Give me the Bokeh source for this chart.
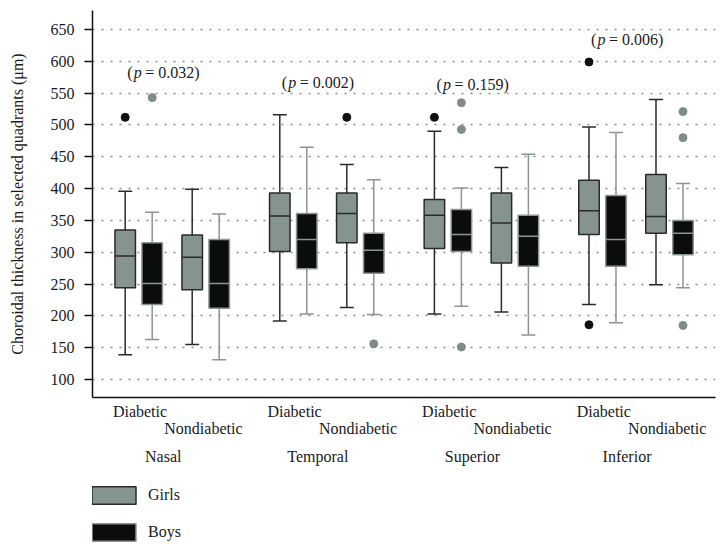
from bokeh.plotting import figure
from bokeh.layouts import column
from bokeh.models import Range1d, FixedTicker, LinearAxis, Legend, LegendItem, ColumnDataSource
from bokeh.core.properties import value, field
from bokeh.embed import file_html
from bokeh.resources import INLINE

# ---------------- data ----------------
quadrants = ["Nasal", "Temporal", "Superior", "Inferior"]
status = ["Diabetic", "Nondiabetic"]
groups = ["Girls", "Boys"]
p_values = ["0.032", "0.002", "0.159", "0.006"]
y_ticks = [100, 150, 200, 250, 300, 350, 400, 450, 500, 550, 600, 650]

# box order: Nasal D, Nasal ND, Temporal D, Temporal ND, Superior D, Superior ND, Inferior D, Inferior ND
girls_low = [139, 155, 192, 213, 203, 206, 218, 249]
girls_q1 = [244, 241, 301, 315, 306, 283, 328, 330]
girls_med = [294, 292, 357, 361, 358, 346, 365, 356]
girls_q3 = [335, 327, 393, 393, 383, 393, 413, 422]
girls_high = [396, 399, 516, 438, 490, 433, 497, 540]

boys_low = [163, 131, 203, 202, 215, 170, 189, 244]
boys_q1 = [218, 212, 274, 267, 301, 278, 278, 296]
boys_med = [251, 251, 320, 303, 328, 325, 320, 330]
boys_q3 = [315, 320, 361, 330, 367, 358, 389, 350]
boys_high = [363, 360, 465, 414, 401, 454, 488, 408]

girls_out_box = [0, 3, 4, 6, 6]
girls_out_val = [512, 512, 512, 599, 186]
boys_out_box = [0, 3, 4, 4, 4, 7, 7, 7]
boys_out_val = [543, 156, 535, 493, 151, 521, 480, 185]

# ---------------- layout ----------------
GIRLS_OFF = [0.0, 0.4334]
BOYS_OFF = [0.1746, 0.6080]
BOX_W = 0.1326
CAP_W = 0.09
STATUS_LABEL_OFF = [0.0957, 0.506]
GROUP_LABEL_OFF = 0.246
p_label_y = [583, 566, 564, 634]

FONT = "Liberation Serif"
TEXT_COLOR = "#1a1a1a"
GIRLS_FILL = "#869491"
GIRLS_LINE = "#2a2a2a"
BOYS_FILL = "#0b0d0d"
BOYS_LINE = "#8a9694"
GIRLS_DOT = "#111111"
BOYS_DOT = "#7f8b89"

xg = [q + o for q in range(len(quadrants)) for o in GIRLS_OFF]
xb = [q + o for q in range(len(quadrants)) for o in BOYS_OFF]

girls_src = ColumnDataSource(dict(x=xg, q1=girls_q1, q3=girls_q3))
boys_src = ColumnDataSource(dict(x=xb, q1=boys_q1, q3=boys_q3))

p = figure(width=722, height=470,
           x_range=Range1d(-0.2115, 3.8183), y_range=Range1d(71.7, 679.9),
           output_backend="svg", toolbar_location=None,
           min_border_left=92, min_border_right=7, min_border_top=10, min_border_bottom=73)
p.outline_line_color = None
p.background_fill_color = "white"
p.xgrid.visible = False
p.ygrid.ticker = FixedTicker(ticks=y_ticks)
p.ygrid.grid_line_color = "#8a8a8a"
p.ygrid.grid_line_dash = "2 7"
p.ygrid.grid_line_width = 1.3

# y axis
yax = p.yaxis[0]
yax.ticker = FixedTicker(ticks=y_ticks)
yax.axis_line_color = "#111111"
yax.axis_line_width = 1.5
yax.major_tick_line_color = "#111111"
yax.major_tick_line_width = 1.5
yax.major_tick_out = 8
yax.major_tick_in = 0
yax.minor_tick_line_color = None
yax.major_label_standoff = 10
yax.major_label_text_font = FONT
yax.major_label_text_font_size = "16px"
yax.major_label_text_color = TEXT_COLOR
yax.axis_label = "Choroidal thickness in selected quadrants (μm)"
yax.axis_label_text_font = FONT
yax.axis_label_text_font_size = "16px"
yax.axis_label_text_font_style = "normal"
yax.axis_label_text_color = TEXT_COLOR
yax.axis_label_standoff = 22


def style_xaxis(ax, ticks, labels, standoff, line=False):
    ax.ticker = FixedTicker(ticks=ticks)
    ax.major_label_overrides = {t: l for t, l in zip(ticks, labels)}
    ax.major_tick_line_color = None
    ax.minor_tick_line_color = None
    ax.major_tick_out = 0
    ax.major_tick_in = 0
    ax.major_label_standoff = standoff
    ax.major_label_text_font = FONT
    ax.major_label_text_font_size = "16px"
    ax.major_label_text_color = TEXT_COLOR
    if line:
        ax.axis_line_color = "#111111"
        ax.axis_line_width = 1.5
    else:
        ax.axis_line_color = None


d_ticks = [round(q + STATUS_LABEL_OFF[0], 4) for q in range(len(quadrants))]
nd_ticks = [round(q + STATUS_LABEL_OFF[1], 4) for q in range(len(quadrants))]
g_ticks = [round(q + GROUP_LABEL_OFF, 4) for q in range(len(quadrants))]

style_xaxis(p.xaxis[0], d_ticks, [status[0]] * 4, 5, line=True)
ax2 = LinearAxis()
style_xaxis(ax2, nd_ticks, [status[1]] * 4, -3)
p.add_layout(ax2, "below")
ax3 = LinearAxis()
style_xaxis(ax3, g_ticks, quadrants, 8)
p.add_layout(ax3, "below")

# whiskers
for xs, lo, q1, q3, hi, col in [(xg, girls_low, girls_q1, girls_q3, girls_high, GIRLS_LINE),
                                (xb, boys_low, boys_q1, boys_q3, boys_high, BOYS_LINE)]:
    p.segment(x0=xs, y0=q3, x1=xs, y1=hi, line_color=col, line_width=1.5)
    p.segment(x0=xs, y0=q1, x1=xs, y1=lo, line_color=col, line_width=1.5)
    p.segment(x0=[x - CAP_W / 2 for x in xs], y0=hi, x1=[x + CAP_W / 2 for x in xs], y1=hi,
              line_color=col, line_width=1.5)
    p.segment(x0=[x - CAP_W / 2 for x in xs], y0=lo, x1=[x + CAP_W / 2 for x in xs], y1=lo,
              line_color=col, line_width=1.5)

p.vbar(x="x", width=BOX_W, top="q3", bottom="q1", source=girls_src,
       fill_color=GIRLS_FILL, line_color=GIRLS_LINE, line_width=1.5)
p.vbar(x="x", width=BOX_W, top="q3", bottom="q1", source=boys_src,
       fill_color=BOYS_FILL, line_color=BOYS_LINE, line_width=1.5)

p.segment(x0=[x - BOX_W / 2 for x in xg], y0=girls_med, x1=[x + BOX_W / 2 for x in xg], y1=girls_med,
          line_color=GIRLS_LINE, line_width=1.5)
p.segment(x0=[x - BOX_W / 2 for x in xb], y0=boys_med, x1=[x + BOX_W / 2 for x in xb], y1=boys_med,
          line_color=BOYS_LINE, line_width=1.5)

p.scatter(x=[xg[i] for i in girls_out_box], y=girls_out_val, size=8,
          fill_color=GIRLS_DOT, line_color=GIRLS_DOT)
p.scatter(x=[xb[i] for i in boys_out_box], y=boys_out_val, size=8,
          fill_color=BOYS_DOT, line_color=BOYS_DOT)

# p-value labels: "(" + italic "p" + "= value)"
tx, ty, tt, ts, td = [], [], [], [], []
for q, pv in enumerate(p_values):
    for text, style, dx in [("(", "normal", -36), ("p", "italic", -29.5), ("= " + pv + ")", "normal", -18)]:
        tx.append(q + GROUP_LABEL_OFF)
        ty.append(p_label_y[q])
        tt.append(text)
        ts.append(style)
        td.append(dx)
src = ColumnDataSource(dict(x=tx, y=ty, text=tt, style=ts, dx=td))
p.text(x="x", y="y", text="text", x_offset="dx", text_font_style=field("style"), source=src,
       text_font=value(FONT), text_font_size="16px", text_baseline="middle", text_align="left",
       text_color=TEXT_COLOR)

# ---------------- legend strip (second figure below the chart) ----------------
# Hidden legend proxies reuse the box data, so only the legend itself is drawn in this strip.
LEG_H = 82
p2 = figure(width=722, height=LEG_H, x_range=Range1d(100, 822), y_range=Range1d(1000, 1000 + LEG_H),
            output_backend="svg", toolbar_location=None,
            x_axis_location=None, y_axis_location=None,
            min_border_left=0, min_border_right=0, min_border_top=0, min_border_bottom=0)
p2.outline_line_color = None
p2.xgrid.visible = False
p2.ygrid.visible = False
r_girls = p2.vbar(x="x", width=BOX_W, top="q3", bottom="q1", source=girls_src,
                  fill_color=GIRLS_FILL, line_color=GIRLS_LINE, line_width=1.5)
r_boys = p2.vbar(x="x", width=BOX_W, top="q3", bottom="q1", source=boys_src,
                 fill_color=BOYS_FILL, line_color=BOYS_LINE, line_width=1.5)
r_girls.visible = False
r_boys.visible = False
legend = Legend(items=[LegendItem(label=groups[0], renderers=[r_girls]),
                       LegendItem(label=groups[1], renderers=[r_boys])],
                location=(-6, 9), orientation="vertical",
                glyph_width=55, glyph_height=22, label_height=18, label_standoff=7, spacing=15,
                padding=0, margin=0, border_line_color=None, background_fill_alpha=0,
                inactive_fill_alpha=0,
                label_text_font=FONT, label_text_font_size="16px", label_text_color=TEXT_COLOR)
p2.add_layout(legend, "center")

open("out.html", "w").write(file_html(column(p, p2, spacing=0), INLINE))
